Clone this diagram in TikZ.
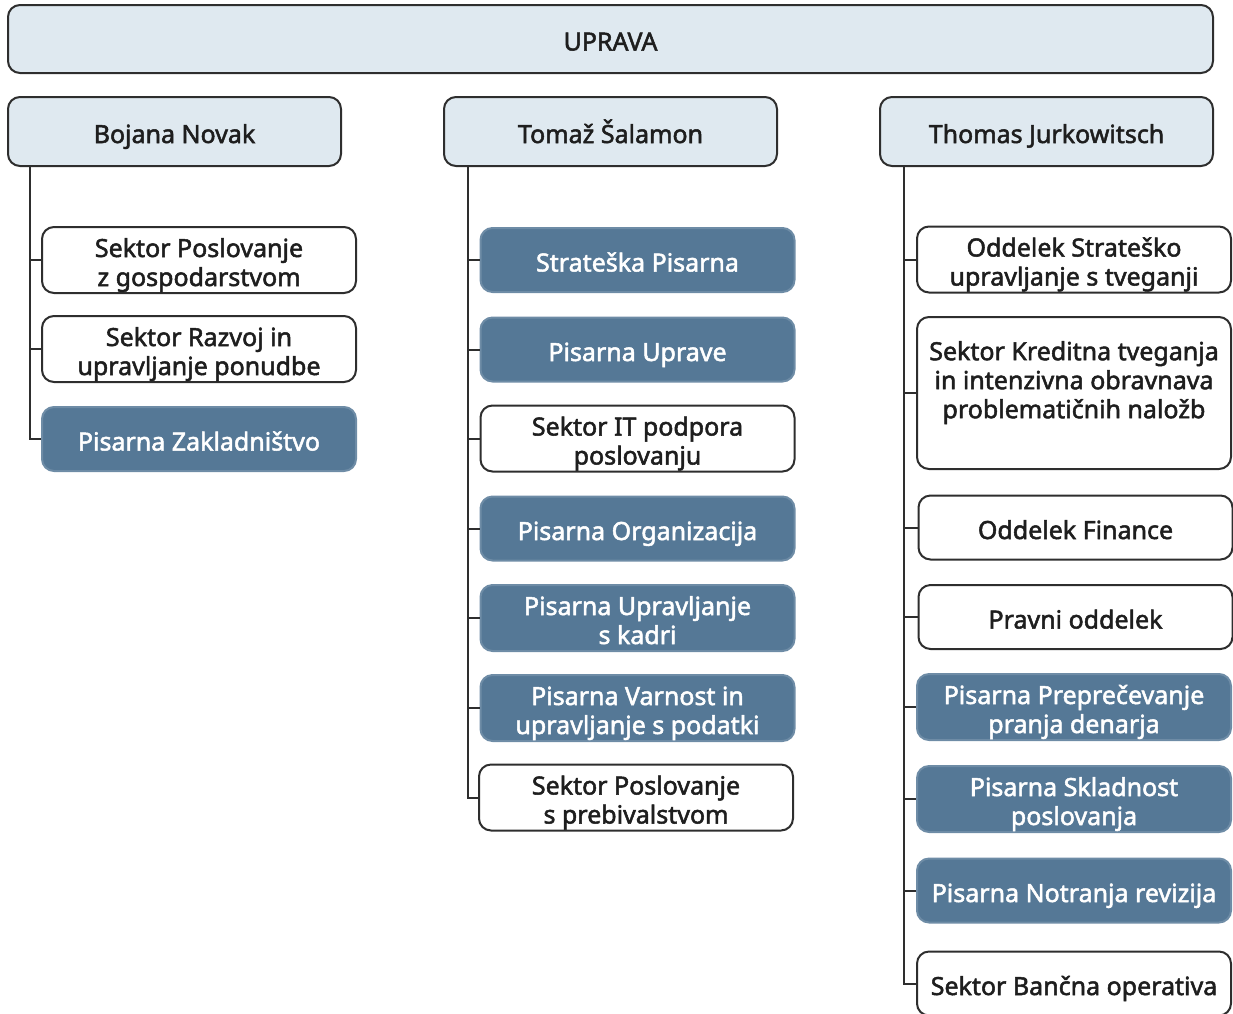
\documentclass[tikz,border=0pt]{standalone}
\usepackage{fontspec}
\setmainfont{Noto Sans}
\newfontfamily\semibold{Noto Sans}[FakeBold=2]
\definecolor{lineC}{HTML}{2E2E2E}
\definecolor{headC}{HTML}{DFE9F0}
\definecolor{darkC}{HTML}{557896}
\definecolor{textC}{HTML}{1E1E1E}
\newcommand{\boxfont}{\semibold\fontsize{25}{29}\selectfont}
% podpore za navpicno poravnavo besedila
\newcommand{\sT}{\rule{0pt}{30pt}}
\newcommand{\sB}{\rule[-7pt]{0pt}{7pt}}
\tikzset{
  box/.style={draw=lineC, line width=2pt, rounded corners=12pt, minimum width=314pt,
    minimum height=64pt, align=center, font=\boxfont, inner sep=0pt},
  head/.style={box, fill=headC, text=textC, minimum width=333pt, minimum height=69pt},
  wbox/.style={box, fill=white, text=textC},
  dbox/.style={box, fill=darkC, draw=darkC!85!white, text=white},
  conn/.style={draw=lineC, line width=2pt},
}
\begin{document}
\begin{tikzpicture}[x=1pt, y=-1pt]
  \useasboundingbox (0,0) rectangle (1233,1013);

  % Uprava
  \node[head, minimum width=1205pt, minimum height=68pt] (uprava) at (610.5,39) {\sT UPRAVA\sB};

  % Clani uprave
  \node[head] (novak) at (174.5,131.5) {\sT Bojana Novak\sB};
  \node[head] (salamon) at (610.5,131.5) {\sT Tomaž Šalamon\sB};
  \node[head] (jurk) at (1046.5,131.5) {\sT Thomas Jurkowitsch\sB};

  % Bojana Novak
  \node[wbox] (bn1) at (199,260) {\sT Sektor Poslovanje\\z gospodarstvom\sB};
  \node[wbox] (bn2) at (199,349) {\sT Sektor Razvoj in\\upravljanje ponudbe\sB};
  \node[dbox] (bn3) at (199,439) {\sT Pisarna Zakladništvo\sB};

  % Tomaz Salamon
  \node[dbox] (ts1) at (637.5,260) {\sT Strateška Pisarna\sB};
  \node[dbox] (ts2) at (637.5,349.5) {\sT Pisarna Uprave\sB};
  \node[wbox] (ts3) at (637.5,438.5) {\sT Sektor IT podpora\\poslovanju\sB};
  \node[dbox] (ts4) at (637.5,528.5) {\sT Pisarna Organizacija\sB};
  \node[dbox] (ts5) at (637.5,618) {\sT Pisarna Upravljanje\\s kadri\sB};
  \node[dbox] (ts6) at (637.5,708) {\sT Pisarna Varnost in\\upravljanje s podatki\sB};
  \node[wbox] (ts7) at (636,797.5) {\sT Sektor Poslovanje\\s prebivalstvom\sB};

  % Thomas Jurkowitsch
  \node[wbox] (tj1) at (1074,259.5) {\sT Oddelek Strateško\\upravljanje s tveganji\sB};
  \node[wbox, minimum height=152pt,
    label={[font=\boxfont, text=textC, align=center, inner sep=0pt, yshift=-14pt,
      anchor=north]north:{\sT Sektor Kreditna tveganja\\in intenzivna obravnava\\problematičnih naložb}}]
    (tj2) at (1074,393) {};
  \node[wbox] (tj3) at (1075.5,527.5) {\sT Oddelek Finance\sB};
  \node[wbox] (tj4) at (1075.5,617) {\sT Pravni oddelek\sB};
  \node[dbox] (tj5) at (1074,707) {\sT Pisarna Preprečevanje\\pranja denarja\sB};
  \node[dbox] (tj6) at (1074,799) {\sT Pisarna Skladnost\\poslovanja\sB};
  \node[dbox] (tj7) at (1074,890.5) {\sT Pisarna Notranja revizija\sB};
  \node[wbox] (tj8) at (1074,983.5) {\sT Sektor Bančna operativa\sB};

  % Povezave
  \coordinate (bnTop) at (novak.south -| 30,0);
  \coordinate (tsTop) at (salamon.south -| 468,0);
  \coordinate (tjTop) at (jurk.south -| 904,0);
  \foreach \c in {bn1,bn2,bn3}
    \draw[conn] (bnTop) |- (\c.west);
  \foreach \c in {ts1,ts2,ts3,ts4,ts5,ts6,ts7}
    \draw[conn] (tsTop) |- (\c.west);
  \foreach \c in {tj1,tj2,tj3,tj4,tj5,tj6,tj7,tj8}
    \draw[conn] (tjTop) |- (\c.west);
\end{tikzpicture}
\end{document}
